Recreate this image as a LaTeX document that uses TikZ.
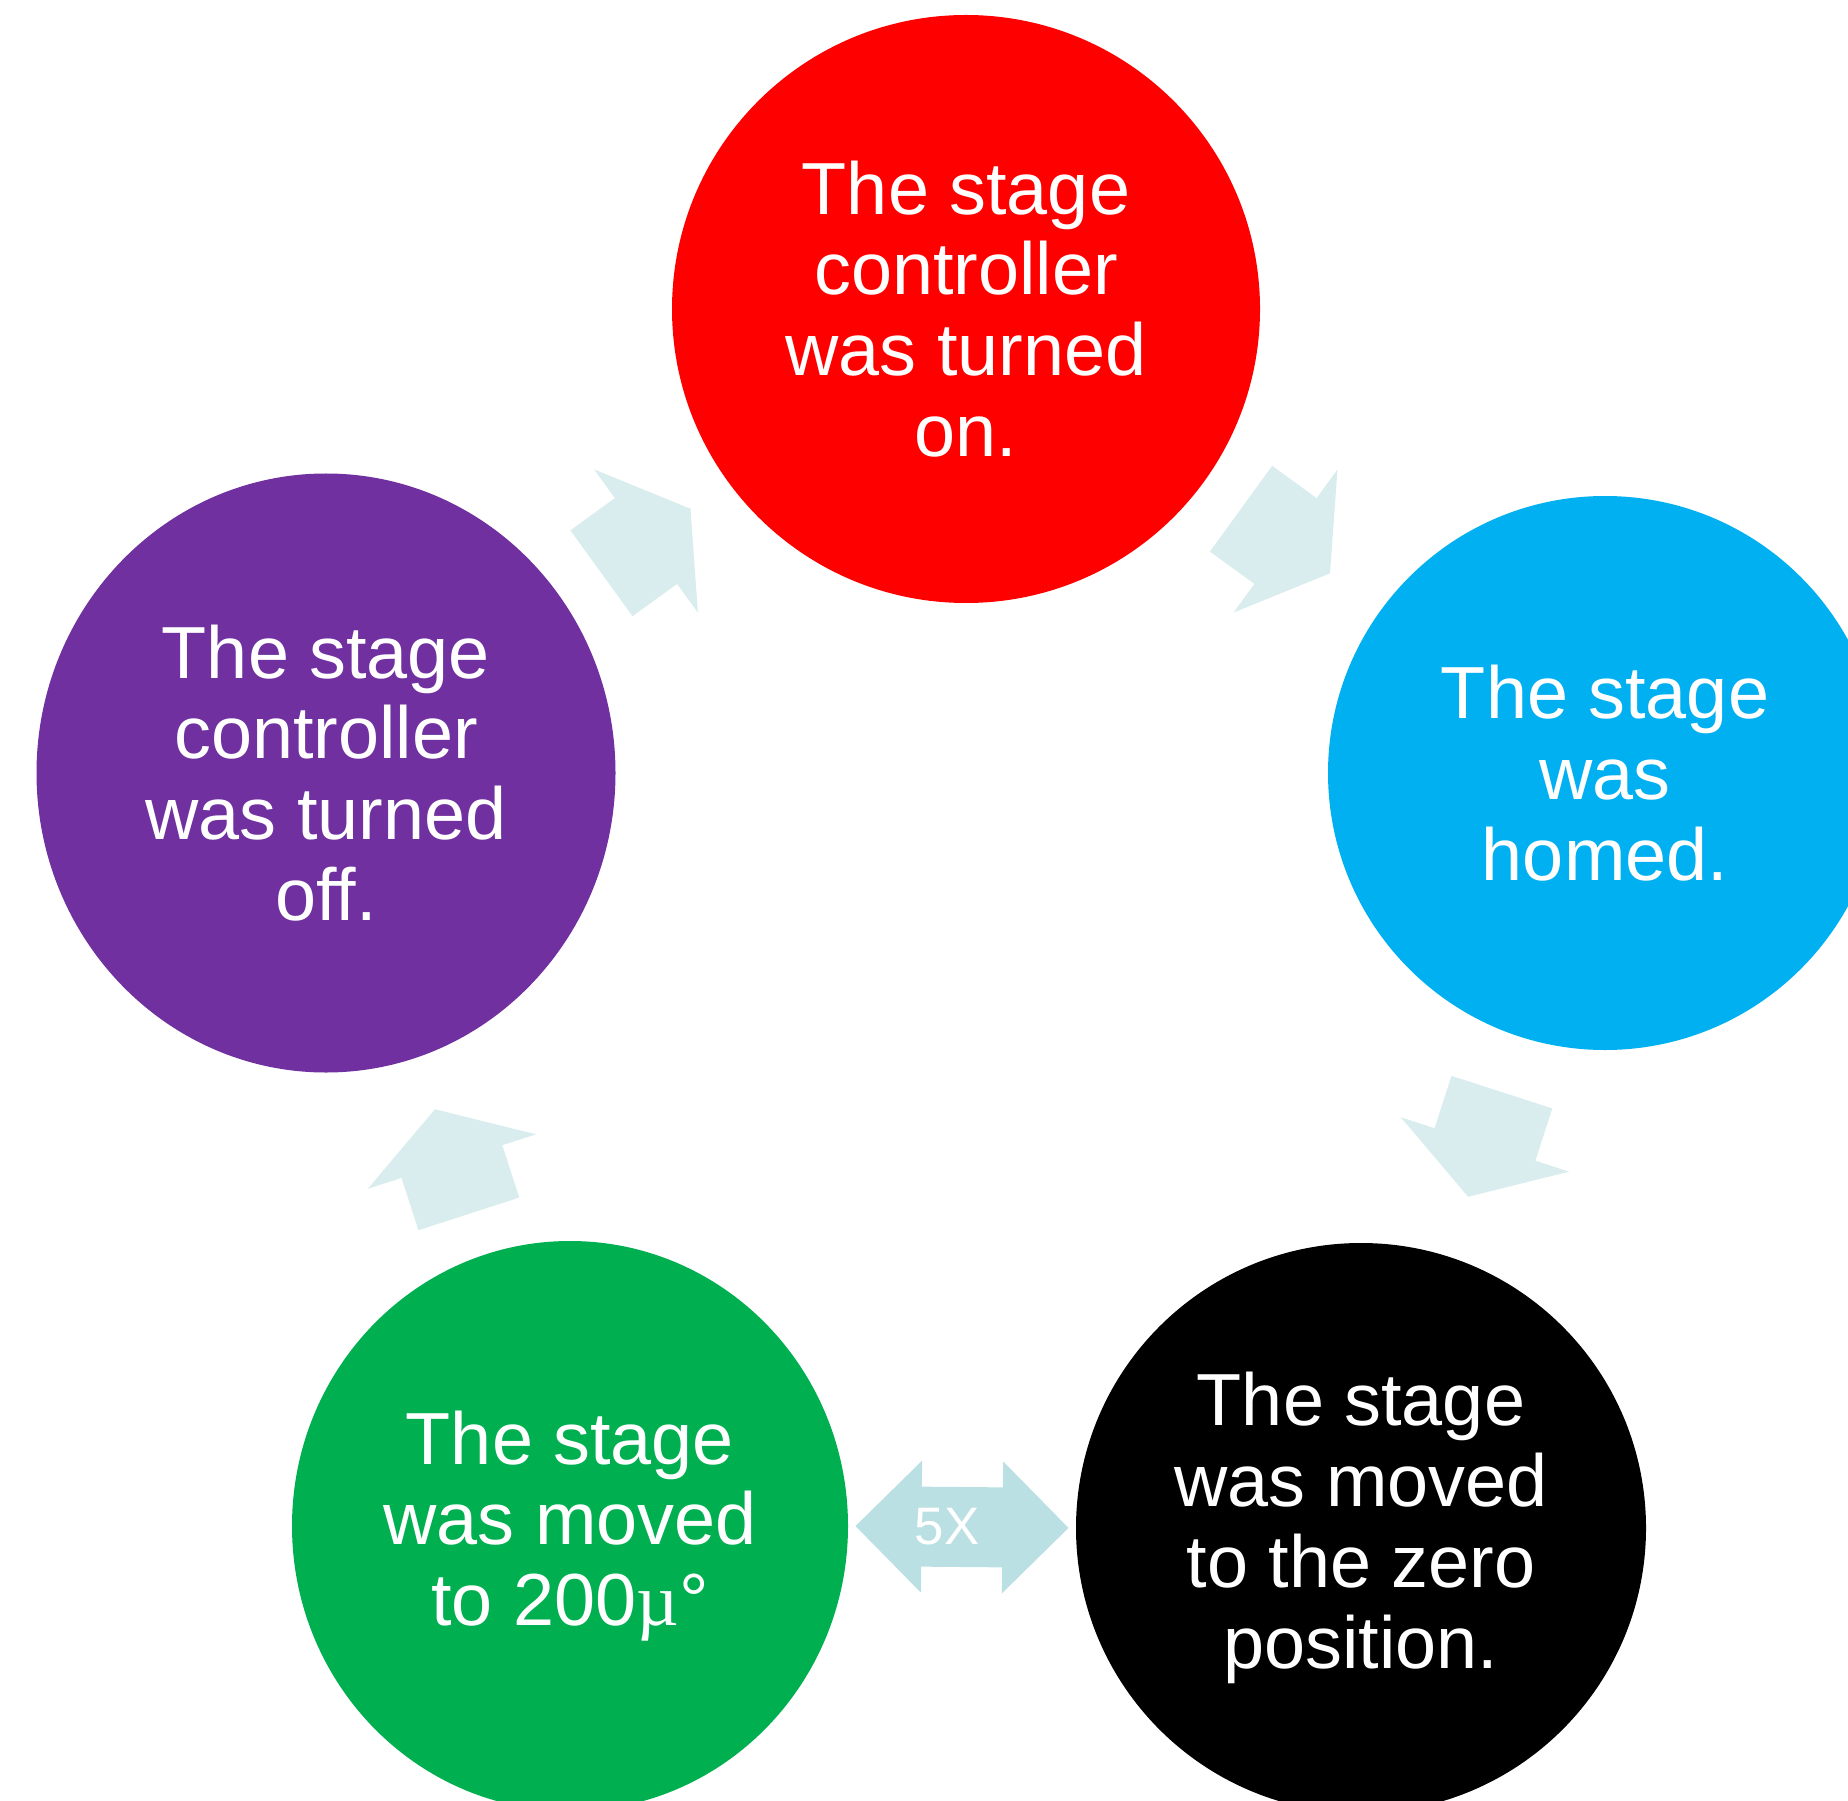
\documentclass[tikz,border=0pt]{standalone}
\usepackage{fontspec}
\setmainfont{Liberation Sans}
\newfontfamily\mufont{Liberation Serif}
\usetikzlibrary{shapes.geometric,decorations.markings}

\definecolor{stepred}{HTML}{FF0000}
\definecolor{stepcyan}{HTML}{00B0F0}
\definecolor{steppurple}{HTML}{7030A0}
\definecolor{stepgreen}{HTML}{00B050}
\definecolor{arrowblue}{RGB}{218,237,238}
\definecolor{repeatblue}{RGB}{187,224,227}

\begin{document}
\begin{tikzpicture}[auto,
  main node/.style={ellipse,fill=#1,text=white,align=center,inner sep=0pt,font=\fontsize{21}{23}\selectfont},
  cycle arrow/.style={postaction={decorate},decoration={markings,
    mark=at position #1 with {\fill[arrowblue] (-0.55,-0.53) -- (0,-0.53) -- (0,-0.885) -- (0.55,0)
      -- (0,0.885) -- (0,0.53) -- (-0.55,0.53) -- cycle;}}},
  cycle arrow/.default=0.5,
  repeat arrow/.style={postaction={decorate},decoration={markings,
    mark=at position 0.5 with {\fill[repeatblue] (-1.065,0) -- (-0.405,0.66) -- (-0.405,0.40) -- (0.405,0.40)
      -- (0.405,0.66) -- (1.065,0) -- (0.405,-0.66) -- (0.405,-0.40) -- (-0.405,-0.40) -- (-0.405,-0.66) -- cycle;
      \node[text=white,font=\fontsize{15}{18}\selectfont] (reps) at (-0.15,0) {5X};}}}]
  \useasboundingbox (0,0) rectangle (18.48,18);
  \clip (0,0) rectangle (18.48,18);

  \node[main node=stepred,minimum width=5.88cm,minimum height=5.88cm] (1) at (9.66,14.91) {The stage\\controller\\was turned\\on.};
  \node[main node=stepcyan,minimum width=5.54cm,minimum height=5.54cm] (2) at (16.05,10.27) {The stage\\was\\homed.};
  \node[main node=black,minimum width=5.70cm,minimum height=5.70cm] (3) at (13.61,2.72) {The stage\\was moved\\to the zero\\position.};
  \node[main node=stepgreen,minimum width=5.56cm,minimum height=5.70cm] (4) at (5.70,2.74) {The stage\\was moved\\to 200{\mufont µ}°};
  \node[main node=steppurple,minimum width=5.79cm,minimum height=5.99cm] (5) at (3.26,10.27) {The stage\\controller\\was turned\\off.};

  \path[cycle arrow] (1.center) -- (2.center);
  \path[cycle arrow=0.492] (2.center) -- (3.center);
  \path[cycle arrow=0.484] (4.center) -- (5.center);
  \path[cycle arrow] (5.center) -- (1.center);
  \path[repeat arrow] (4.east) -- (3.west);
\end{tikzpicture}
\end{document}
